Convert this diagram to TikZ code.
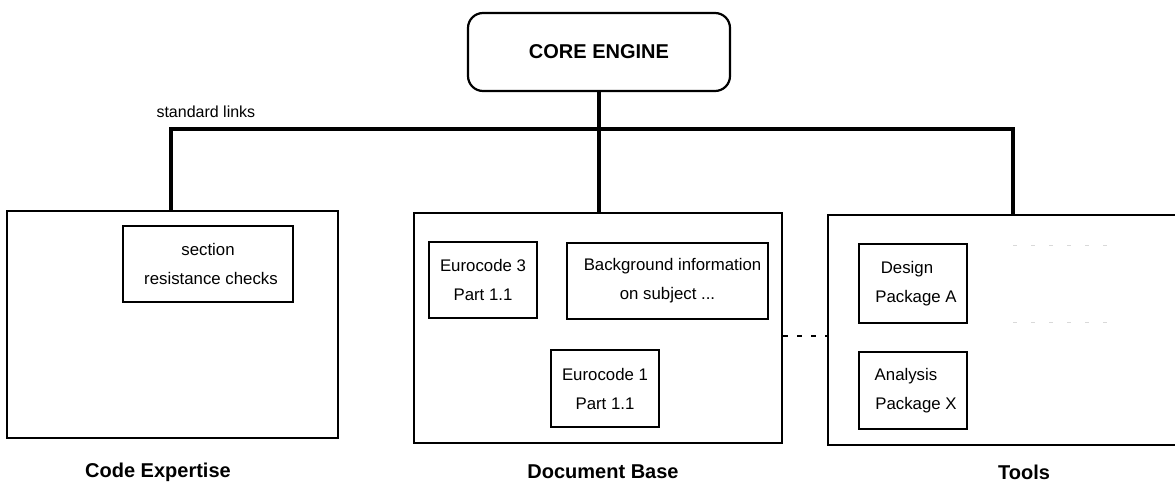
\documentclass[tikz,border=0pt]{standalone}
\usepackage{fontspec}
\setmainfont{Liberation Sans}
\begin{document}
\begin{tikzpicture}[x=1pt,y=-1pt,
  bigbox/.style={draw, line width=2.2pt, rectangle, inner sep=0pt},
  subbox/.style={draw, line width=2.2pt, rectangle, inner sep=0pt, align=center,
                 font=\fontsize{16.8}{29}\selectfont},
  bus/.style={line width=4pt},
  caption/.style={font=\bfseries\fontsize{20}{24}\selectfont},
  ghost/.style={draw=gray!30, line width=1pt, dash pattern=on 4pt off 14pt}]
\useasboundingbox (0,0) rectangle (1175,493);

% central engine
\node[draw, line width=2.2pt, rounded corners=15pt, minimum width=262pt, minimum height=78pt,
      font=\bfseries\fontsize{20}{22}\selectfont] (core) at (599,52) {CORE ENGINE};

% three modules
\node[bigbox, minimum width=331pt, minimum height=227pt] (ce) at (172.5,324.5) {};
\node[bigbox, minimum width=368pt, minimum height=230pt] (db) at (598,328) {};
\node[bigbox, minimum width=360pt, minimum height=230pt] (tl) at (1008,330) {};

% module captions
\node[caption] (cecap) at (158,472) {Code Expertise};
\node[caption] (dbcap) at (603,472) {Document Base};
\node[caption] (tlcap) at (1024,472) {Tools};

% contents of the modules
\node[subbox, minimum width=170pt, minimum height=76pt] (src) at (208,264)
  {section\\\hspace*{6pt}resistance checks};
\node[subbox, minimum width=108pt, minimum height=76pt] (ec3) at (483,280)
  {Eurocode 3\\Part 1.1};
\node[subbox, minimum width=201pt, minimum height=76pt] (bg) at (667.5,281)
  {\hspace*{10pt}Background information\\on subject ...};
\node[subbox, minimum width=108pt, minimum height=77pt] (ec1) at (605,388.5)
  {Eurocode 1\\Part 1.1};
\node[subbox, minimum width=108pt, minimum height=79pt] (dpa) at (913,283.5)
  {Design\hspace*{12pt}\\\hspace*{6pt}Package A};
\node[subbox, minimum width=108pt, minimum height=77pt] (apx) at (913,390.5)
  {Analysis\hspace*{14pt}\\\hspace*{6pt}Package X};

% faint outline of a further tool
\coordinate (g1) at (1013,245);
\coordinate (g2) at (1118,245);
\coordinate (g3) at (1013,322);
\coordinate (g4) at (1118,322);
\draw[ghost] (g1) -- (g2);
\draw[ghost] (g3) -- (g4);

% standard links bus
\coordinate (busL) at (171,129);
\coordinate (busM) at (599,129);
\coordinate (busR) at (1013,129);
\draw[bus, line join=miter] (busL |- ce.north) -- (busL) -- (busR) -- (busR |- tl.north);
\draw[bus] (core.south) -- (busM);
\draw[bus] (busM) -- (busM |- db.north);
\node[anchor=west, font=\fontsize{16}{18}\selectfont] (links) at (153,112) {standard links};

% dashed link between documents and tools
\draw[line width=1.2pt, dash pattern=on 5pt off 9pt] (db.east |- 0,336) -- (tl.west |- 0,336);
\end{tikzpicture}
\end{document}
